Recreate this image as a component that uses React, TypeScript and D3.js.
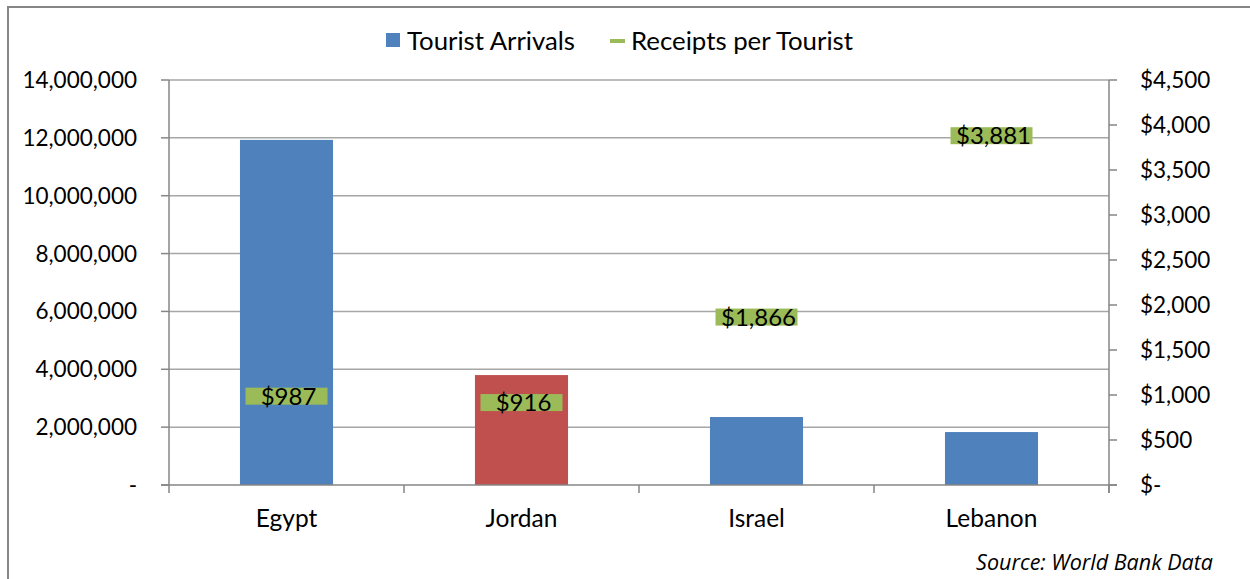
import React from "react";
import * as d3 from "d3";

const categories = ["Egypt", "Jordan", "Israel", "Lebanon"];
const arrivals = [11930000, 3800000, 2350000, 1830000];
const receipts = [987, 916, 1866, 3881];
const barColors = ["#4F81BD", "#C0504D", "#4F81BD", "#4F81BD"];
const leftTicks = [0, 2000000, 4000000, 6000000, 8000000, 10000000, 12000000, 14000000];
const rightTicks = [0, 500, 1000, 1500, 2000, 2500, 3000, 3500, 4000, 4500];
const seriesNames = ["Tourist Arrivals", "Receipts per Tourist"];
const sourceText = "Source: World Bank Data";

const W = 1250, H = 579;
const plot = { left: 169, right: 1109, top: 80, bottom: 485 };
const FONT = "Lato, 'Open Sans', sans-serif";

export default function App() {
  const x = d3.scaleBand<string>().domain(categories).range([plot.left, plot.right]).paddingInner(0.604).paddingOuter(0.302);
  const xb = d3.scaleBand<string>().domain(categories).range([plot.left, plot.right]);
  const yL = d3.scaleLinear().domain([0, 14000000]).range([plot.bottom, plot.top]);
  const yR = d3.scaleLinear().domain([0, 4500]).range([plot.bottom, plot.top]);
  const fmtL = (v: number) => (v === 0 ? "-" : d3.format(",")(v));
  const fmtR = (v: number) => (v === 0 ? "$-" : "$" + d3.format(",")(v));
  const axisColor = "#868686";
  const gridColor = "#A6A6A6";
  return (
    <svg width={W} height={H} style={{ position: "absolute", left: 0, top: 0, background: "#fff" }} fontFamily={FONT}>
      <rect x={8} y={7} width={W + 20} height={H + 20} fill="none" stroke={axisColor} strokeWidth={2} />
      {leftTicks.slice(1).map((t) => (
        <line key={"g" + t} x1={plot.left} x2={plot.right} y1={yL(t)} y2={yL(t)} stroke={gridColor} strokeWidth={1.5} />
      ))}
      {categories.map((c, i) => (
        <rect key={c} x={x(c)} y={yL(arrivals[i])} width={x.bandwidth()} height={plot.bottom - yL(arrivals[i])} fill={barColors[i]} />
      ))}
      <line x1={plot.left} x2={plot.left} y1={plot.top} y2={plot.bottom + 8} stroke={axisColor} strokeWidth={1.5} />
      <line x1={plot.right} x2={plot.right} y1={plot.top} y2={plot.bottom + 8} stroke={axisColor} strokeWidth={1.5} />
      <line x1={plot.left - 8} x2={plot.right + 8} y1={plot.bottom} y2={plot.bottom} stroke={axisColor} strokeWidth={1.5} />
      {leftTicks.map((t) => (
        <g key={"l" + t}>
          <line x1={plot.left - 8} x2={plot.left} y1={yL(t)} y2={yL(t)} stroke={axisColor} strokeWidth={1.5} />
          <text x={137} y={yL(t) + 8} textAnchor="end" fontSize={22.5} fill="#000">{fmtL(t)}</text>
        </g>
      ))}
      {rightTicks.map((t) => (
        <g key={"r" + t}>
          <line x1={plot.right} x2={plot.right + 8} y1={yR(t)} y2={yR(t)} stroke={axisColor} strokeWidth={1.5} />
          <text x={1140} y={yR(t) + 8} textAnchor="start" fontSize={22.5} fill="#000">{fmtR(t)}</text>
        </g>
      ))}
      {categories.map((c, i) => (
        <g key={"c" + c}>
          <line x1={(xb(c) as number) + xb.bandwidth()} x2={(xb(c) as number) + xb.bandwidth()} y1={plot.bottom} y2={plot.bottom + 8} stroke={axisColor} strokeWidth={1.5} />
          <text x={(xb(c) as number) + xb.bandwidth() / 2} y={527} textAnchor="middle" fontSize={24.5} fill="#000">{c}</text>
        </g>
      ))}
      {categories.map((c, i) => {
        const cx = (xb(c) as number) + xb.bandwidth() / 2;
        const cy = yR(receipts[i]);
        return (
          <g key={"m" + c}>
            <rect x={cx - 41} y={cy - 8.5} width={82} height={17} fill="#9BBB59" />
            <text x={cx + 2} y={cy + 8.5} textAnchor="middle" fontSize={24} fill="#000">{"$" + d3.format(",")(receipts[i])}</text>
          </g>
        );
      })}
      <rect x={386} y={33} width={14} height={14} fill="#4F81BD" />
      <text x={407} y={50} fontSize={25.5} fill="#000" textLength={168} lengthAdjust="spacingAndGlyphs">{seriesNames[0]}</text>
      <line x1={610} x2={625} y1={41} y2={41} stroke="#9BBB59" strokeWidth={4} />
      <text x={631} y={50} fontSize={25.5} fill="#000" textLength={222} lengthAdjust="spacingAndGlyphs">{seriesNames[1]}</text>
      <text x={1213} y={570} textAnchor="end" fontSize={21.5} fontStyle="italic" fill="#000" fontFamily="'Open Sans', sans-serif">{sourceText}</text>
    </svg>
  );
}
